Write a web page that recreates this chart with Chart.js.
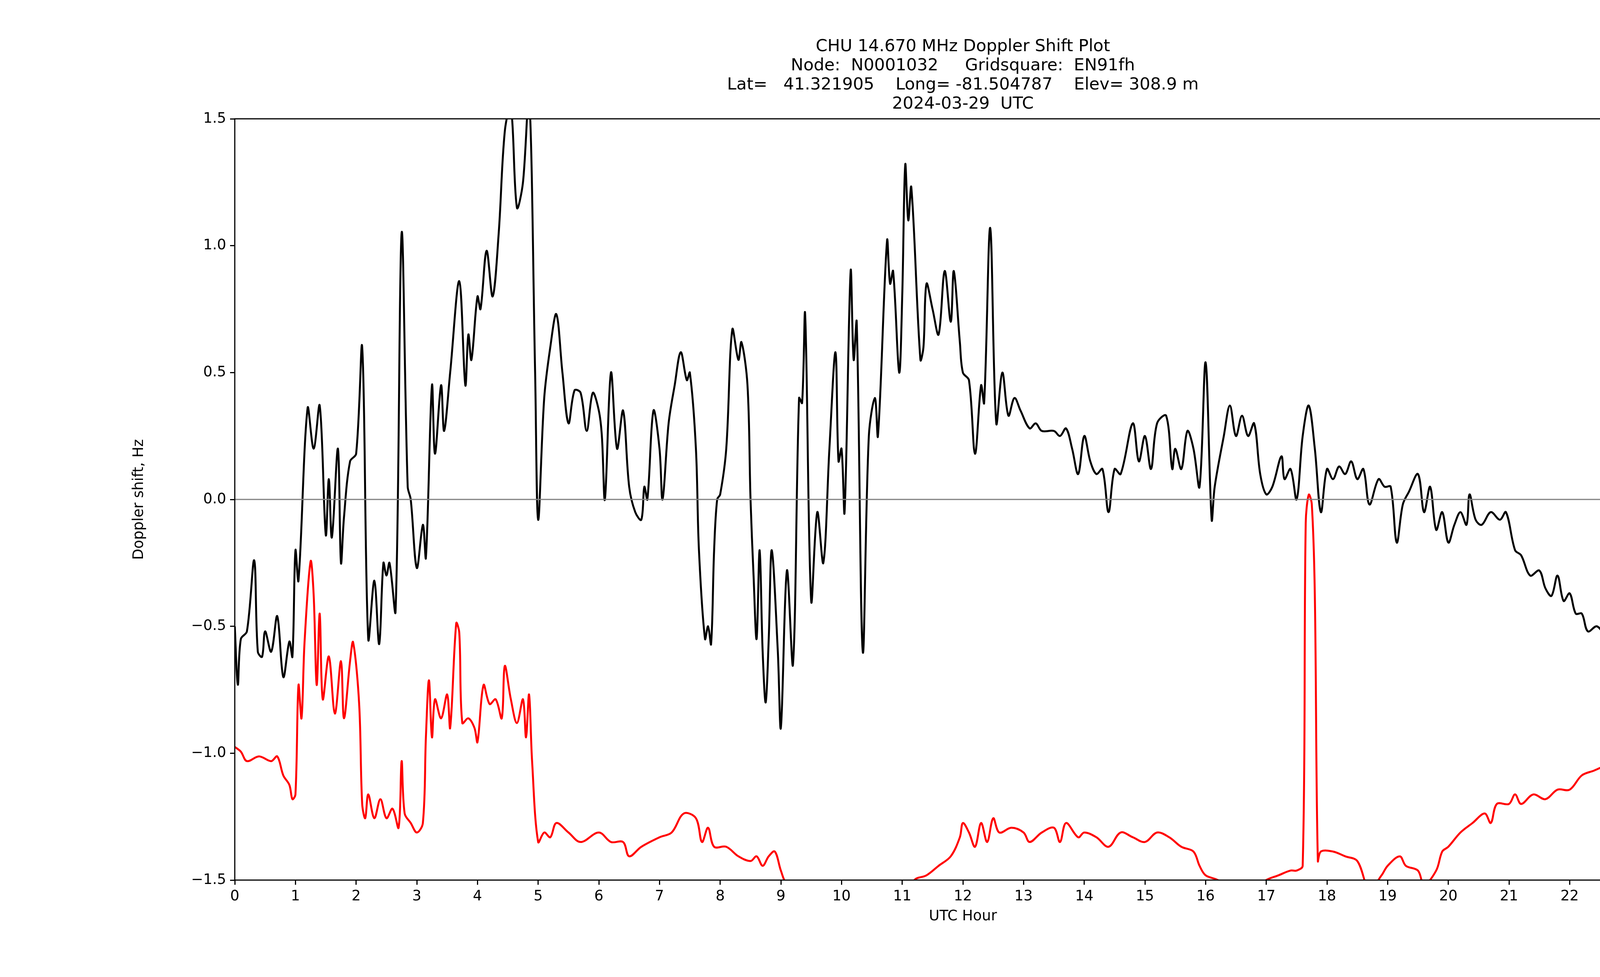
<!DOCTYPE html>
<html><head><meta charset="utf-8">
<script src="https://cdn.jsdelivr.net/npm/chart.js@4"></script>
<style>html,body{margin:0;padding:0;background:#fff;overflow:hidden}canvas{display:block;width:100vw;height:100vh}</style>
</head><body>
<canvas id="c" width="4750" height="2500"></canvas>
<script>
const titleLines = ['CHU 14.670 MHz Doppler Shift Plot', 'Node:  N0001032     Gridsquare:  EN91fh',
	'Lat=   41.321905    Long= -81.504787    Elev= 308.9 m', '2024-03-29  UTC'];

const dopHours = [0,0.05,0.1,0.2,0.32,0.38,0.45,0.5,0.6,0.7,0.8,0.9,0.95,1.0,1.05,1.2,1.3,1.4,1.5,1.55,1.6,1.7,1.75,1.8,1.9,2.0,2.1,2.2,2.3,2.38,2.45,2.5,2.55,2.65,2.75,2.85,2.9,3.0,3.1,3.15,3.25,3.3,3.4,3.45,3.55,3.7,3.8,3.85,3.9,4.0,4.05,4.15,4.25,4.35,4.45,4.55,4.65,4.75,4.85,4.95,5.0,5.1,5.2,5.3,5.4,5.5,5.6,5.7,5.8,5.9,6.0,6.05,6.1,6.2,6.3,6.4,6.5,6.6,6.7,6.75,6.8,6.9,7.0,7.05,7.15,7.25,7.35,7.45,7.5,7.6,7.65,7.75,7.8,7.85,7.9,7.95,8.0,8.1,8.2,8.3,8.35,8.45,8.5,8.55,8.6,8.65,8.7,8.75,8.8,8.85,8.95,9.0,9.1,9.2,9.3,9.35,9.4,9.5,9.6,9.7,9.8,9.9,9.95,10.0,10.05,10.15,10.2,10.25,10.35,10.45,10.55,10.6,10.75,10.8,10.85,10.95,11.0,11.05,11.1,11.15,11.3,11.35,11.4,11.5,11.6,11.7,11.8,11.85,11.95,12.0,12.1,12.2,12.3,12.35,12.45,12.55,12.65,12.75,12.85,12.95,13.1,13.2,13.3,13.5,13.6,13.7,13.8,13.9,14.0,14.1,14.2,14.3,14.4,14.5,14.6,14.8,14.9,15.0,15.1,15.2,15.35,15.45,15.5,15.6,15.7,15.8,15.9,16.0,16.1,16.15,16.3,16.4,16.5,16.6,16.7,16.8,16.9,17.0,17.1,17.25,17.3,17.4,17.5,17.6,17.7,17.8,17.9,18.0,18.1,18.2,18.3,18.4,18.5,18.6,18.7,18.85,18.95,19.05,19.15,19.25,19.35,19.5,19.6,19.7,19.8,19.9,20.0,20.1,20.2,20.3,20.35,20.45,20.55,20.7,20.85,20.95,21.1,21.2,21.35,21.5,21.6,21.7,21.8,21.9,22.0,22.1,22.2,22.3,22.45,22.6,22.7,22.85,22.95,23.0,23.1,23.2,23.3,23.4,23.5,23.6,23.7,23.8,23.9,24.0];
const dopShift = [-0.5,-0.73,-0.55,-0.52,-0.24,-0.6,-0.62,-0.52,-0.6,-0.46,-0.7,-0.56,-0.62,-0.2,-0.32,0.36,0.2,0.37,-0.14,0.08,-0.15,0.2,-0.25,-0.07,0.15,0.18,0.6,-0.55,-0.32,-0.57,-0.25,-0.3,-0.25,-0.44,1.05,0.05,0.0,-0.27,-0.1,-0.23,0.45,0.18,0.45,0.27,0.5,0.86,0.45,0.65,0.55,0.8,0.75,0.98,0.8,1.05,1.45,1.55,1.15,1.25,1.6,0.5,-0.08,0.4,0.6,0.73,0.5,0.3,0.43,0.42,0.27,0.42,0.35,0.25,0.0,0.5,0.2,0.35,0.05,-0.05,-0.08,0.05,0.0,0.35,0.2,0.0,0.3,0.45,0.58,0.47,0.5,0.2,-0.2,-0.55,-0.5,-0.57,-0.2,0.0,0.02,0.2,0.67,0.55,0.62,0.45,0.0,-0.3,-0.55,-0.2,-0.6,-0.8,-0.55,-0.2,-0.6,-0.9,-0.28,-0.65,0.4,0.38,0.73,-0.4,-0.05,-0.25,0.2,0.58,0.15,0.2,-0.05,0.9,0.55,0.7,-0.6,0.25,0.4,0.25,1.02,0.85,0.9,0.5,0.8,1.32,1.1,1.23,0.55,0.6,0.85,0.75,0.65,0.9,0.7,0.9,0.62,0.5,0.47,0.18,0.45,0.38,1.07,0.3,0.5,0.33,0.4,0.35,0.28,0.3,0.27,0.27,0.25,0.28,0.2,0.1,0.25,0.15,0.1,0.12,-0.05,0.12,0.1,0.3,0.15,0.25,0.12,0.3,0.33,0.12,0.2,0.12,0.27,0.2,0.05,0.54,-0.08,0.05,0.25,0.37,0.25,0.33,0.25,0.3,0.1,0.02,0.05,0.17,0.08,0.12,0.0,0.25,0.37,0.2,-0.05,0.12,0.08,0.13,0.1,0.15,0.08,0.12,-0.02,0.08,0.05,0.05,-0.17,-0.02,0.03,0.1,-0.05,0.05,-0.12,-0.05,-0.17,-0.1,-0.05,-0.1,0.02,-0.08,-0.1,-0.05,-0.08,-0.05,-0.2,-0.22,-0.3,-0.28,-0.35,-0.38,-0.3,-0.4,-0.37,-0.45,-0.45,-0.52,-0.5,-0.55,-0.6,-0.53,-0.65,-0.55,-0.62,-0.65,-0.84,-0.68,-0.75,-0.7,-0.63,-0.68,-0.64,-0.68];

const pwrHours = [0,0.1,0.2,0.4,0.6,0.7,0.8,0.9,0.95,1.0,1.05,1.1,1.15,1.25,1.3,1.35,1.4,1.45,1.55,1.65,1.75,1.8,1.9,1.95,2.05,2.1,2.15,2.2,2.3,2.4,2.5,2.6,2.7,2.75,2.8,2.9,3.0,3.1,3.15,3.2,3.25,3.3,3.4,3.5,3.55,3.65,3.7,3.75,3.85,3.95,4.0,4.1,4.2,4.3,4.4,4.45,4.55,4.65,4.75,4.8,4.85,4.9,5.0,5.1,5.2,5.3,5.5,5.7,6.0,6.2,6.4,6.5,6.7,7.0,7.2,7.4,7.6,7.7,7.8,7.9,8.1,8.3,8.5,8.6,8.7,8.8,8.9,9.0,9.1,9.5,10.5,11.0,11.2,11.4,11.6,11.8,11.95,12.0,12.1,12.2,12.3,12.4,12.5,12.6,12.8,13.0,13.1,13.3,13.5,13.6,13.7,13.9,14.0,14.2,14.4,14.6,14.8,15.0,15.2,15.4,15.6,15.8,15.9,16.0,16.2,16.4,16.6,16.8,17.0,17.2,17.4,17.5,17.6,17.65,17.7,17.75,17.8,17.85,17.9,18.1,18.3,18.5,18.7,18.9,19.0,19.2,19.3,19.5,19.6,19.8,19.9,20.0,20.2,20.4,20.6,20.7,20.8,21.0,21.1,21.2,21.4,21.6,21.8,22.0,22.2,22.4,22.6,22.8,23.0,23.2,23.4,23.6,23.8,24.0];
const pwrDb = [-132,-133,-135,-134,-135,-134,-138,-140,-143,-142,-119,-126,-110,-93,-100,-119,-104,-122,-113,-125,-114,-126,-114,-110,-123,-144,-147,-142,-147,-143,-147,-145,-149,-135,-146,-148,-150,-148,-130,-118,-130,-122,-126,-121,-128,-106,-108,-127,-126,-128,-131,-119,-123,-122,-126,-115,-122,-127,-122,-130,-121,-135,-152,-150,-151,-148,-150,-152,-150,-152,-152,-155,-153,-151,-150,-146,-147,-152,-149,-153,-153,-155,-156,-155,-157,-155,-154,-158,-161,-166,-168,-165,-160,-159,-157,-155,-151,-148,-150,-153,-148,-152,-147,-150,-149,-150,-152,-150,-149,-152,-148,-151,-150,-151,-153,-150,-151,-152,-150,-151,-153,-154,-157,-159,-160,-162,-163,-162,-160,-159,-158,-158,-157,-85,-79,-81,-100,-156,-154,-154,-155,-156,-162,-159,-157,-155,-157,-158,-161,-158,-154,-153,-150,-148,-146,-148,-144,-144,-142,-144,-142,-143,-141,-141,-138,-137,-136,-136,-135,-135,-133,-131,-132,-132];

const F = 'DejaVu Sans';
const minus = s => String(s).replace('-', '\u2212');

const frame = {
	id: 'frame',
	afterDraw(chart) {
		const {ctx, chartArea: a} = chart;
		ctx.save();
		ctx.strokeStyle = '#000'; ctx.lineWidth = 3;
		ctx.strokeRect(a.left, a.top, a.right - a.left, a.bottom - a.top);
		ctx.fillStyle = '#000'; ctx.font = '43px "' + F + '"';
		ctx.textAlign = 'center'; ctx.textBaseline = 'middle';
		const cx = (a.left + a.right) / 2;
		titleLines.forEach((t, i) => ctx.fillText(t, cx, 120 + i * 49));
		ctx.restore();
	}
};

const tickGrid = c => ({display: true, drawOnChartArea: false, drawTicks: true, tickLength: 12, tickWidth: 3, color: c});

new Chart(document.getElementById('c'), {
	type: 'line',
	data: {
		datasets: [
			{data: [{x: 0, y: 0}, {x: 24, y: 0}], borderColor: '#808080', borderWidth: 3, pointRadius: 0, yAxisID: 'y'},
			{data: dopHours.map((h, i) => ({x: h, y: dopShift[i]})), borderColor: '#000', borderWidth: 5, pointRadius: 0, tension: 0.35, yAxisID: 'y'},
			{data: pwrHours.map((h, i) => ({x: h, y: pwrDb[i]})), borderColor: '#ff0000', borderWidth: 5, pointRadius: 0, tension: 0.35, yAxisID: 'y2'},
		]
	},
	options: {
		responsive: false, devicePixelRatio: 1, animation: false,
		layout: {padding: {left: 330, right: 160, top: 304, bottom: 128}},
		plugins: {legend: {display: false}, tooltip: {enabled: false}},
		scales: {
			x: {
				type: 'linear', min: 0, max: 24,
				ticks: {stepSize: 1, color: '#000', font: {family: F, size: 37}, padding: 8},
				grid: tickGrid('#000'), border: {display: false},
				title: {display: true, text: 'UTC Hour', color: '#000', font: {family: F, size: 37}},
				afterFit: s => { s.height = 120; }
			},
			y: {
				position: 'left', min: -1.5, max: 1.5,
				ticks: {stepSize: 0.5, color: '#000', font: {family: F, size: 37}, callback: v => minus(v.toFixed(1)), padding: 10},
				grid: tickGrid('#000'), border: {display: false},
				title: {display: true, text: 'Doppler shift, Hz', color: '#000', font: {family: F, size: 37}},
				afterFit: s => { s.width = 271; }
			},
			y2: {
				position: 'right', min: -160, max: 0,
				ticks: {stepSize: 20, color: '#ff0000', font: {family: F, size: 37}, callback: v => minus(v), padding: 10},
				grid: tickGrid('#ff0000'), border: {display: false},
				title: {display: true, text: 'dBVrms', color: '#ff0000', font: {family: F, size: 37}},
				afterFit: s => { s.width = 261; }
			}
		}
	},
	plugins: [frame]
});
</script>
</body></html>
